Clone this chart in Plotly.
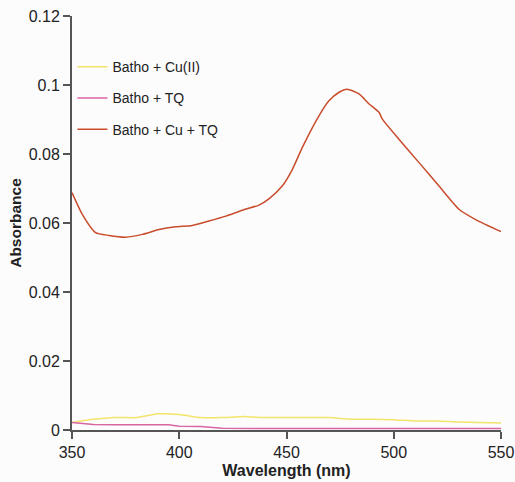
import plotly.graph_objects as go

wl_red = [350, 354.8, 361, 367.2, 375, 382.8, 390.6, 398.3, 406.1, 413.9, 421.7, 429.4, 437.2,
          441.8, 448, 452.7, 457.4, 465.2, 469.8, 474.5, 478.2, 483.8, 488.5, 493.1, 494.7,
          502.4, 511.8, 521.1, 530.4, 538.2, 550]
abs_red = [0.0688, 0.0625, 0.0572, 0.0564, 0.0559, 0.0567, 0.0581, 0.0589, 0.0593, 0.0606, 0.0620,
           0.0637, 0.0652, 0.0670, 0.0707, 0.0755, 0.0819, 0.0911, 0.0954, 0.0979, 0.0988, 0.0974,
           0.0945, 0.0921, 0.0901, 0.0843, 0.0775, 0.0707, 0.0640, 0.0610, 0.0575]

wl_yellow = [350, 360, 370, 380, 390, 400, 410, 420, 430, 440, 450, 460, 470, 480, 490, 500,
             510, 520, 530, 540, 550]
abs_yellow = [0.0022, 0.0031, 0.0036, 0.0036, 0.0047, 0.0045, 0.0036, 0.0036, 0.0039, 0.0036,
              0.0036, 0.0036, 0.0036, 0.0031, 0.0031, 0.0030, 0.0026, 0.0026, 0.0023, 0.0022, 0.0020]

wl_pink = [350, 360, 370, 380, 395, 400, 410, 420, 430, 450, 500, 550]
abs_pink = [0.0022, 0.0016, 0.0015, 0.0015, 0.0015, 0.0011, 0.0010, 0.0005, 0.0004, 0.0004,
            0.0004, 0.0004]

fig = go.Figure()
fig.add_trace(go.Scatter(x=wl_yellow, y=abs_yellow, mode="lines", name="Batho + Cu(II)",
                         line=dict(color="#f2e36a", width=1.5, shape="spline", smoothing=0.4),
                         legendgroup="a"))
fig.add_trace(go.Scatter(x=wl_pink, y=abs_pink, mode="lines", name="Batho + TQ",
                         line=dict(color="#d866a2", width=1.5), legendgroup="b"))
fig.add_trace(go.Scatter(x=wl_red, y=abs_red, mode="lines", name="Batho + Cu + TQ",
                         line=dict(color="#c94c2c", width=1.5, shape="spline", smoothing=0.6),
                         legendgroup="c"))

fig.update_layout(
    width=515, height=482,
    margin=dict(l=72, r=14, t=16, b=52),
    paper_bgcolor="#fcfcfd", plot_bgcolor="#fcfcfd",
    font=dict(family="Liberation Sans, Arial, sans-serif", color="#222222"),
    showlegend=True,
    legend=dict(x=0.001, y=0.915, xanchor="left", yanchor="top", bgcolor="rgba(0,0,0,0)",
                font=dict(size=14), tracegroupgap=10, traceorder="grouped", itemwidth=30),
    xaxis=dict(range=[350, 550], tickvals=[350, 400, 450, 500, 550], showgrid=False,
               zeroline=False, showline=True, linecolor="#555555", linewidth=2,
               ticks="outside", ticklen=7, tickwidth=1.5, tickcolor="#555555",
               tickfont=dict(size=16), automargin=False,
               title=dict(text="<b>Wavelength (nm)</b>", font=dict(size=16), standoff=5)),
    yaxis=dict(range=[0, 0.12], tickvals=[0, 0.02, 0.04, 0.06, 0.08, 0.1, 0.12],
               ticktext=["0", "0.02", "0.04", "0.06", "0.08", "0.1", "0.12"],
               showgrid=False, zeroline=False, showline=True, linecolor="#555555", linewidth=2,
               ticks="outside", ticklen=7, tickwidth=1.5, tickcolor="#555555",
               tickfont=dict(size=16), automargin=False,
               title=dict(text="<b>Absorbance</b>", font=dict(size=15.5), standoff=3)),
)
fig.write_html("out.html", config={"displayModeBar": False},
               post_script="document.body.style.margin='0';")
